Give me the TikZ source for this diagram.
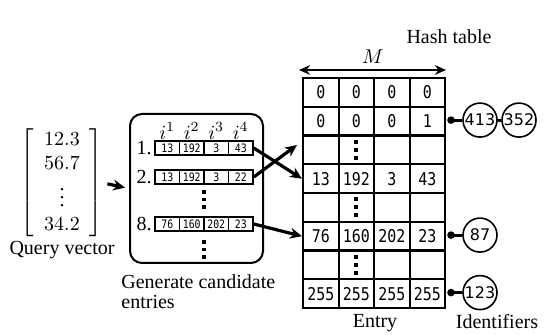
\documentclass[tikz,border=0pt]{standalone}
\usepackage[no-math]{fontspec}
\setmainfont{Liberation Serif}
\newfontfamily\tabfont[FakeStretch=0.85]{DejaVu Sans Mono}
\newfontfamily\idfont{DejaVu Sans}
\usetikzlibrary{arrows.meta}
\begin{document}
\begin{tikzpicture}[x=0.5pt,y=-0.5pt,
  cell/.style={draw,line width=1.1pt,minimum width=17.75pt,minimum height=14.375pt,inner sep=0pt,anchor=north west,font=\tabfont\fontsize{8.8}{10}\selectfont},
  ccell/.style={draw,line width=0.75pt,minimum width=12.25pt,minimum height=7.2pt,inner sep=0pt,font=\tabfont\fontsize{5.8}{7}\selectfont},
  idc/.style={draw,circle,line width=0.8pt,minimum size=17pt,inner sep=0pt,font=\idfont\fontsize{8}{9}\selectfont},
  iddot/.style={circle,fill,minimum size=3.8pt,inner sep=0pt},
  idline/.style={line width=1.5pt},
  arr/.style={line width=1.6pt,-{Stealth[length=6pt,width=5.4pt]}},
  bigdot/.style={fill,minimum size=2pt,inner sep=0pt},
  smalldot/.style={fill,minimum size=1.6pt,inner sep=0pt},
  lbl/.style={inner sep=0pt}]
\useasboundingbox (0,0) rectangle (551,335);

% ---------- query vector
\node[inner sep=0pt] (qv) at (62,183) {$\left[\begin{array}{c}12.3\\56.7\\\vdots\\34.2\end{array}\right]$};
\node[lbl] (qvl) at (62,250) {Query vector};

% ---------- candidate box
\node[draw,rounded corners=6pt,line width=1pt,minimum width=66.5pt,minimum height=74.5pt] (box) at (196.5,188.5) {};
\foreach \c in {1,...,4}{
  \node[lbl] (sup-\c) at ({167.25+24.5*(\c-1)},131) {$i^{\c}$};
}
\foreach \v [count=\c] in {13,192,3,43}{
  \node[ccell] (c-1-\c) at ({167.25+24.5*(\c-1)},148) {\v};
}
\foreach \v [count=\c] in {13,192,3,22}{
  \node[ccell] (c-2-\c) at ({167.25+24.5*(\c-1)},177) {\v};
}
\foreach \v [count=\c] in {76,160,202,23}{
  \node[ccell] (c-8-\c) at ({167.25+24.5*(\c-1)},224) {\v};
}
\node[lbl] (n1) at (144,148) {1.};
\node[lbl] (n2) at (144,177) {2.};
\node[lbl] (n8) at (144,224) {8.};
\foreach \k/\y in {a/192,b/199.5,c/207,d/242,e/249.5,f/257}{
  \node[smalldot] (cd-\k) at (204,\y) {};
}
\node[lbl,align=left,anchor=north west,font=\fontsize{10}{10}\selectfont] (gen) at (121,274) {Generate candidate\\entries};

% ---------- hash table
\foreach \v [count=\c] in {0,0,0,0}{
  \node[cell] (t-1-\c) at ({302+35.5*(\c-1)},77) {\v};
}
\foreach \v [count=\c] in {0,0,0,1}{
  \node[cell] (t-2-\c) at ({302+35.5*(\c-1)},105.75) {\v};
}
\foreach \c in {1,...,4}{
  \node[cell] (t-3-\c) at ({302+35.5*(\c-1)},134.5) {};
}
\foreach \v [count=\c] in {13,192,3,43}{
  \node[cell] (t-4-\c) at ({302+35.5*(\c-1)},163.25) {\v};
}
\foreach \c in {1,...,4}{
  \node[cell] (t-5-\c) at ({302+35.5*(\c-1)},192) {};
}
\foreach \v [count=\c] in {76,160,202,23}{
  \node[cell] (t-6-\c) at ({302+35.5*(\c-1)},220.75) {\v};
}
\foreach \c in {1,...,4}{
  \node[cell] (t-7-\c) at ({302+35.5*(\c-1)},249.5) {};
}
\foreach \v [count=\c] in {255,255,255,255}{
  \node[cell] (t-8-\c) at ({302+35.5*(\c-1)},278.25) {\v};
}
\foreach \r in {3,5,7}{
  \foreach \o [count=\k] in {-8,0,8}{
    \node[bigdot] (td-\r-\k) at ([yshift=-\o*0.5pt]t-\r-2.center) {};
  }
}

% M arrow and labels
\coordinate (ml) at (299,70);
\coordinate (mr) at (446,70);
\draw[line width=1.4pt,{Stealth[length=5.5pt,width=4.8pt]}-{Stealth[length=5.5pt,width=4.8pt]}] (ml) -- (mr);
\node[lbl] (mlab) at (373,57) {$M$};
\node[lbl] (ht) at (449,37) {Hash table};
\node[lbl] (entry) at (375,323) {Entry};
\node[lbl] (idl) at (497,322) {Identifiers};

% ---------- identifiers
\node[iddot] (d2) at (451,120.1) {};
\node[idc] (i413) at (480,120.1) {413};
\node[idc] (i352) at (519,120.1) {352};
\node[iddot] (d6) at (451,235.1) {};
\node[idc] (i87) at (480,235.1) {87};
\node[iddot] (d8) at (451,292.6) {};
\node[idc] (i123) at (480,292.6) {123};
\draw[idline] (d2.center) -- (i413);
\draw[idline] (i413) -- (i352);
\draw[idline] (d6.center) -- (i87);
\draw[idline] (d8.center) -- (i123);

% ---------- arrows
\draw[arr,shorten <=2pt,shorten >=2pt] (qv.east) -- (box.west);
\draw[arr] (c-1-4.east) -- (t-4-1.west);
\coordinate (miss) at (297,145);
\draw[arr] (c-2-4.east) -- (miss);
\draw[arr] (c-8-4.east) -- (t-6-1.west);
\end{tikzpicture}
\end{document}
